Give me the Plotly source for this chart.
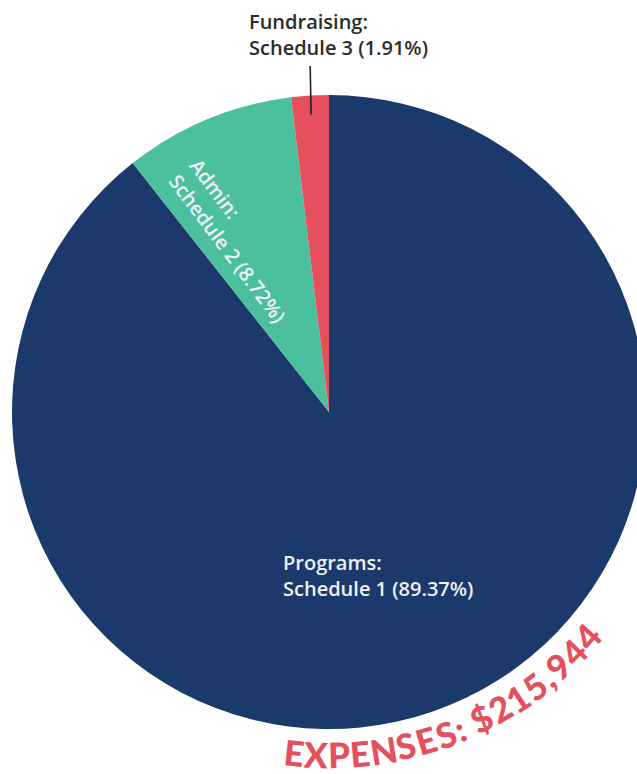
import math
import plotly.graph_objects as go

# data
categories = ["Programs", "Admin", "Fundraising"]
schedules = ["Schedule 1", "Schedule 2", "Schedule 3"]
shares = [89.37, 8.72, 1.91]
total_label = "EXPENSES: $215,944"

colors = ["#1b3a6b", "#4cc09e", "#e5505c"]

# figure is a little wider than the window so the pie's right edge gets clipped like the original
W, H = 650, 774
cx, cy, R = 329.0, 412.0, 317.0   # pie centre / radius in px


def paper(px, py):
    return px / W, 1 - py / H


fig = go.Figure()
fig.add_trace(go.Pie(
    labels=categories,
    values=shares,
    sort=False,
    direction="clockwise",
    rotation=0,
    marker=dict(colors=colors, line=dict(width=0)),
    textinfo="none",
    hoverinfo="label+percent",
    domain=dict(x=[(cx - R) / W, (cx + R) / W],
                y=[1 - (cy + R) / H, 1 - (cy - R) / H]),
    showlegend=False,
))

font = "'Open Sans', 'Noto Sans', sans-serif"
lab_font = dict(family=font, size=20, weight=600)
ann = []

# Programs label (inside, horizontal)
x, y = paper(281, 575)
ann.append(dict(x=x, y=y, xref="paper", yref="paper", xanchor="left", yanchor="middle",
                align="left", showarrow=False,
                text=f"{categories[0]}:<br>{schedules[0]} ({shares[0]:.2f}%)",
                font=dict(lab_font, color="#eef1f6")))

# Admin label (inside, rotated)
x, y = paper(238, 240)
ann.append(dict(x=x, y=y, xref="paper", yref="paper", xanchor="center", yanchor="middle",
                align="left", showarrow=False, textangle=53,
                text=f"{categories[1]}:<br>{schedules[1]} ({shares[1]:.2f}%)",
                font=dict(lab_font, color="#eef1f6")))

# Fundraising label (outside) with leader line
x, y = paper(247, 34)
ann.append(dict(x=x, y=y, xref="paper", yref="paper", xanchor="left", yanchor="middle",
                align="left", showarrow=False,
                text=f"{categories[2]}:<br>{schedules[2]} ({shares[2]:.2f}%)",
                font=dict(lab_font, color="#2b2b2b")))

mid = math.radians(360 - shares[2] / sum(shares) * 360 / 2)
px_, py_ = cx + 0.94 * R * math.sin(mid), cy - 0.94 * R * math.cos(mid)
x, y = paper(px_, py_)
ann.append(dict(x=x, y=y, xref="paper", yref="paper", text="", showarrow=True,
                arrowhead=0, arrowwidth=1.6, arrowcolor="#222222", ax=-1, ay=-50))

# curved total label, one glyph at a time along an arc
widths = {"E": .56, "X": .62, "P": .60, "N": .68, "S": .55, ":": .28, " ": .22,
          "$": .56, ",": .26}
start, r_mid, px_per_em = 187.6, 342.0, 38.5
s = 0.0
for ch in total_label:
    w = widths.get(ch, .56) * px_per_em
    ang = start - math.degrees((s + w / 2) / (r_mid + 12))
    s += w
    if ch == " ":
        continue
    a = math.radians(ang)
    x, y = paper(cx + r_mid * math.sin(a), cy - r_mid * math.cos(a))
    ann.append(dict(x=x, y=y, xref="paper", yref="paper", xanchor="center", yanchor="middle",
                    showarrow=False, text=ch, textangle=ang - 180,
                    font=dict(family="Lato, sans-serif", size=35, color="#e5505c", weight=900)))

fig.update_layout(
    width=W, height=H,
    margin=dict(l=0, r=0, t=0, b=0),
    paper_bgcolor="white",
    annotations=ann,
)

fig.write_html("out.html", config={"displayModeBar": False},
               post_script="document.body.style.margin='0';")
